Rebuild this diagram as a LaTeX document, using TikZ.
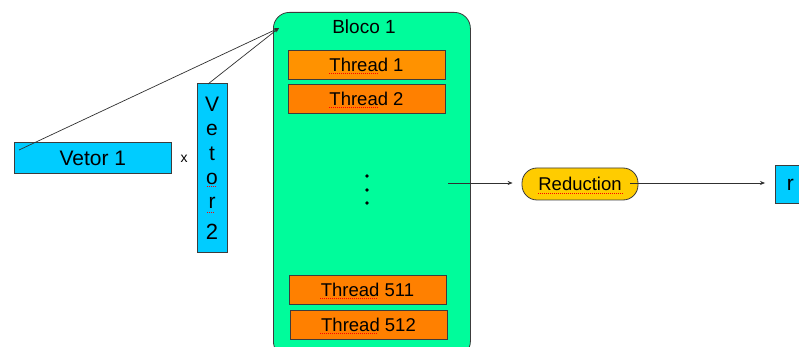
\documentclass[tikz,border=0pt]{standalone}
\usepackage{fontspec}
\setmainfont{Liberation Sans}
\usetikzlibrary{arrows.meta}
\definecolor{vecblue}{RGB}{0,204,255}
\definecolor{blockgreen}{RGB}{0,252,155}
\definecolor{thrA}{RGB}{255,146,0}
\definecolor{thrB}{RGB}{255,128,0}
\definecolor{redgold}{RGB}{255,204,0}
\definecolor{edge}{RGB}{60,60,60}
\tikzset{
  vecbox/.style={draw=edge, fill=vecblue, line width=0.8pt, inner sep=0pt},
  thrbox/.style={draw=edge, line width=0.8pt, minimum width=157pt, minimum height=29pt,
    inner sep=0pt, font=\fontsize{18.5}{20}\selectfont},
  conn/.style={draw=edge!80!black, line width=0.7pt, -{Stealth[length=5pt,width=4pt]}},
  spell/.style={draw=red, line width=0.9pt, dash pattern=on 1pt off 1pt}
}
\begin{document}
\begin{tikzpicture}[x=1pt,y=-1pt]
\clip (0,0) rectangle (799,347);
\fill[white] (0,0) rectangle (799,347);

% thread block
\node[draw=edge, fill=blockgreen, line width=0.8pt, rounded corners=16pt,
  minimum width=197pt, minimum height=345pt, anchor=north west, inner sep=0pt]
  (blk) at (273,12) {};
\node[font=\fontsize{19}{21}\selectfont] (bloco) at (364,27) {Bloco 1};
\node[thrbox, fill=thrA] (t1) at (366.5,64.5) {Thread 1};
\node[thrbox, fill=thrB] (t2) at (366.5,98.5) {Thread 2};
\node[thrbox, fill=thrB] (t511) at (367.5,289.5) {Thread 511};
\node[thrbox, fill=thrB] (t512) at (368.5,324.5) {Thread 512};
\foreach \yy in {176,190,203} \fill (367,\yy) circle (1.8pt);
\coordinate (bout) at (448,183);
\coordinate (bin) at (279,28);

% spelling marks under the thread labels
\draw[spell] (329,73.5) -- (378,73.5);
\draw[spell] (329,107.5) -- (378,107.5);
\draw[spell] (320,298.5) -- (377,298.5);
\draw[spell] (320,333.5) -- (377,333.5);

% input vectors
\node[vecbox, minimum width=157pt, minimum height=31pt, anchor=north west,
  font=\fontsize{21}{23}\selectfont] (v1) at (14,142) {};
\node[font=\fontsize{21}{23}\selectfont] at (v1.center) {Vetor 1};
\node[font=\fontsize{14}{16}\selectfont] (times) at (184,159) {x};
\node[vecbox, minimum width=30pt, minimum height=169pt, anchor=north west] (v2) at (197,83) {};
\foreach \ch/\yy in {V/104, e/130, t/154, o/179, r/203} 
  \node[font=\fontsize{21}{23}\selectfont] at (212,\yy) {\ch};
\node[font=\fontsize{22}{24}\selectfont] at (212,232) {2};
\draw[spell] (207,186) -- (216,186);
\draw[spell] (207,212) -- (214,212);

\coordinate (v1s) at (19,150);
\coordinate (v2s) at (208,84);
\draw[conn] (v1s) -- (bin);
\draw[conn] (v2s) -- (bin);

% reduction and result
\node[draw=edge, fill=redgold, line width=0.8pt, rounded corners=15pt,
  minimum width=116pt, minimum height=32pt, inner sep=0pt,
  font=\fontsize{18.5}{20}\selectfont] (red) at (580,184) {Reduction};
\draw[spell] (538,193) -- (623,193);
\node[vecbox, minimum width=30pt, minimum height=38pt, anchor=north west,
  font=\fontsize{21}{23}\selectfont] (res) at (775,165) {r};

\draw[conn] (bout) -- ([xshift=-9pt]red.west |- bout);
\draw[conn] ([xshift=-8pt]red.east |- bout) -- ([xshift=-10pt]res.west |- bout);
\end{tikzpicture}
\end{document}
